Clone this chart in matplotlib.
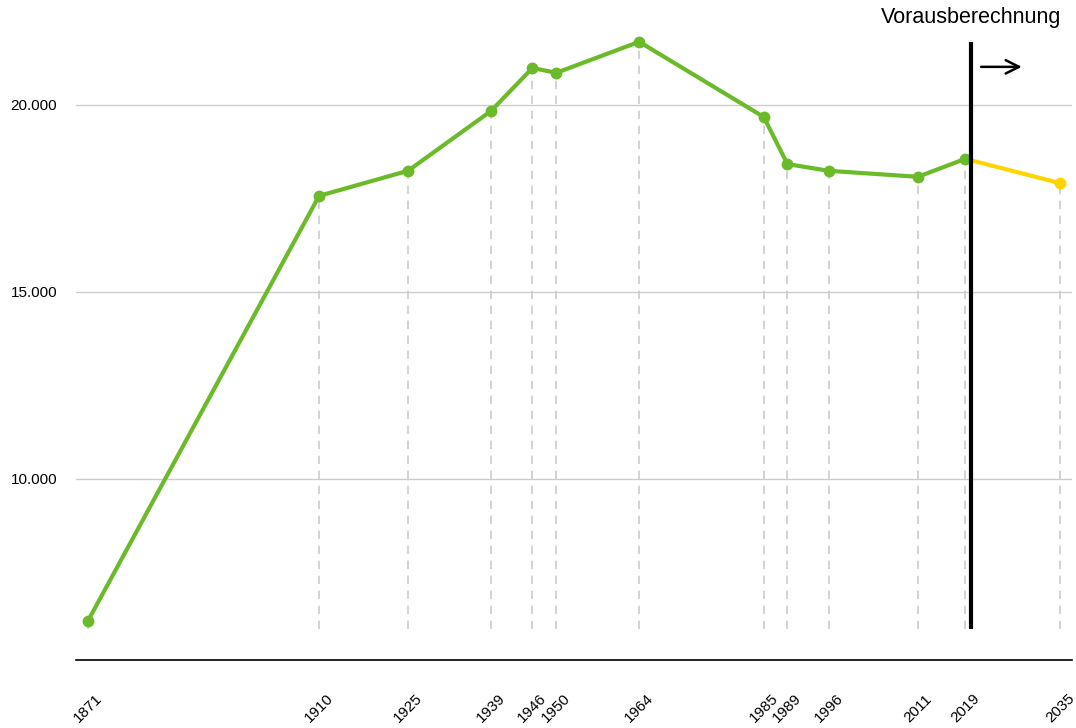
import matplotlib.pyplot as plt
from matplotlib.ticker import FuncFormatter

plt.rcParams['font.family'] = ['Liberation Sans', 'DejaVu Sans']

jahre = [1871, 1910, 1925, 1939, 1946, 1950, 1964, 1985, 1989, 1996, 2011, 2019]
werte = [6200, 17570, 18240, 19840, 20990, 20860, 21690, 19680, 18420, 18240, 18080, 18560]
prog_jahre = [2019, 2035]
prog_werte = [18560, 17910]
grenze = 2020

gruen = '#6aba2a'
gelb = '#ffd500'

fig = plt.figure(figsize=(10.76, 7.28), dpi=100)
ax = fig.add_axes([76 / 1076, 68 / 728, 996 / 1076, 650 / 728])

alle_jahre = jahre + prog_jahre[1:]
alle_werte = werte + prog_werte[1:]
ax.vlines(alle_jahre, 6000, alle_werte, colors='#cccccc', linestyles=(0, (5, 4)),
          linewidth=1.2, zorder=1)

ax.plot(prog_jahre, prog_werte, color=gelb, lw=3, zorder=3)
ax.plot(prog_jahre[1:], prog_werte[1:], 'o', color=gelb, ms=7.5, zorder=4)
ax.plot(jahre, werte, color=gruen, lw=3, marker='o', ms=7.5, zorder=4)

ax.vlines(grenze, 6000, 21690, colors='black', lw=3, zorder=5)
ax.text(grenze, 22330, 'Vorausberechnung', ha='center', va='center', fontsize=15.5)
ax.annotate('', xy=(2029, 21020), xytext=(2021.2, 21020),
            arrowprops=dict(arrowstyle='->', color='black', lw=1.8, mutation_scale=24))

ax.set_xlim(1869, 2037)
ax.set_ylim(5160, 22540)
ax.set_yticks([10000, 15000, 20000])
ax.yaxis.set_major_formatter(FuncFormatter(lambda v, p: f'{int(v):,}'.replace(',', '.')))
ax.set_xticks(alle_jahre)
ax.set_xticklabels([str(j) for j in alle_jahre], rotation=45,
                   rotation_mode='anchor', fontsize=11)
ax.tick_params(axis='x', length=0, pad=35)
ax.tick_params(axis='y', length=0, pad=13.5, labelsize=11)
for lab in ax.get_xticklabels():
    lab.set_horizontalalignment('center')
    lab.set_verticalalignment('center')

ax.grid(axis='y', color='#cccccc', lw=1)
for s in ['top', 'right', 'left']:
    ax.spines[s].set_visible(False)
ax.spines['bottom'].set_linewidth(1.2)

fig.savefig('out.png', dpi=100)
